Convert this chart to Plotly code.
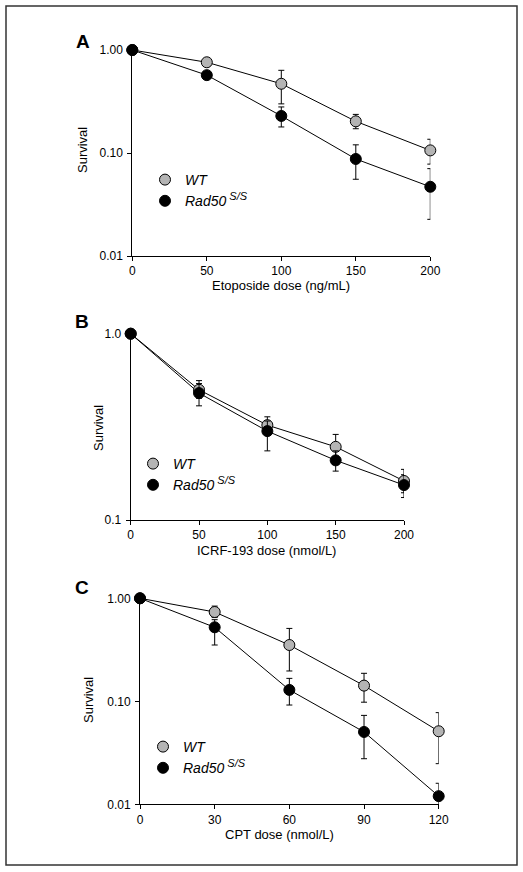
import plotly.graph_objects as go

# ---------------- data ----------------
# Panel A: Etoposide
a_dose = [0, 50, 100, 150, 200]
a_wt = [1.0, 0.76, 0.47, 0.203, 0.106]
a_wt_hi = [1.0, 0.76, 0.635, 0.237, 0.136]
a_wt_lo = [1.0, 0.76, 0.30, 0.172, 0.078]
a_rad = [1.0, 0.57, 0.229, 0.0875, 0.047]
a_rad_hi = [1.0, 0.57, 0.28, 0.12, 0.0705]
a_rad_lo = [1.0, 0.57, 0.179, 0.0556, 0.0227]
a_xticks = [0, 50, 100, 150, 200]

# Panel B: ICRF-193
b_dose = [0, 50, 100, 150, 200]
b_wt = [1.0, 0.50, 0.323, 0.247, 0.162]
b_wt_hi = [1.0, 0.56, 0.358, 0.288, 0.187]
b_wt_lo = [1.0, 0.45, 0.29, 0.215, 0.14]
b_rad = [1.0, 0.48, 0.30, 0.209, 0.154]
b_rad_hi = [1.0, 0.54, 0.34, 0.235, 0.175]
b_rad_lo = [1.0, 0.41, 0.235, 0.183, 0.132]
b_xticks = [0, 50, 100, 150, 200]

# Panel C: CPT
c_dose = [0, 30, 60, 90, 120]
c_wt = [1.0, 0.736, 0.352, 0.142, 0.0512]
c_wt_hi = [1.0, 0.84, 0.51, 0.187, 0.0776]
c_wt_lo = [1.0, 0.65, 0.197, 0.098, 0.0248]
c_rad = [1.0, 0.523, 0.129, 0.0504, 0.012]
c_rad_hi = [1.0, 0.62, 0.167, 0.073, 0.016]
c_rad_lo = [1.0, 0.352, 0.092, 0.0277, 0.009]
c_xticks = [0, 30, 60, 90, 120]

W, H = 523, 872
FONT = "Liberation Sans, Arial, Helvetica, sans-serif"
WT_FILL = "#b4b4b4"


def px(x):
    return x / W


def py(y):
    return 1 - y / H


def err(vals, hi, lo):
    return dict(type="data", symmetric=False,
                array=[h - v for h, v in zip(hi, vals)],
                arrayminus=[v - l for v, l in zip(vals, lo)],
                color="black", thickness=1, width=3)


fig = go.Figure()

panels = [
    ("", a_dose, a_wt, a_wt_hi, a_wt_lo, a_rad, a_rad_hi, a_rad_lo, "legend"),
    ("2", b_dose, b_wt, b_wt_hi, b_wt_lo, b_rad, b_rad_hi, b_rad_lo, "legend2"),
    ("3", c_dose, c_wt, c_wt_hi, c_wt_lo, c_rad, c_rad_hi, c_rad_lo, "legend3"),
]

for s, dose, wt, wthi, wtlo, rad, radhi, radlo, leg in panels:
    for vals in (wt, rad):
        fig.add_trace(go.Scatter(
            x=dose, y=vals, mode="lines", showlegend=False, hoverinfo="skip",
            xaxis="x" + s, yaxis="y" + s, cliponaxis=False,
            line=dict(color="black", width=1)))
    fig.add_trace(go.Scatter(
        x=dose, y=wt, mode="markers", name="<i>WT</i>",
        xaxis="x" + s, yaxis="y" + s, legend=leg, cliponaxis=False,
        marker=dict(size=11, color=WT_FILL, line=dict(color="black", width=1)),
        error_y=err(wt, wthi, wtlo)))
    fig.add_trace(go.Scatter(
        x=dose, y=rad, mode="markers",
        name='<i>Rad50</i><sup><i><span style="font-size:11px"> S/S</span></i></sup>',
        xaxis="x" + s, yaxis="y" + s, legend=leg, cliponaxis=False,
        marker=dict(size=11, color="black", line=dict(color="black", width=1)),
        error_y=err(rad, radhi, radlo)))

axis_common = dict(showline=True, linecolor="black", linewidth=1, ticks="outside",
                   ticklen=4, tickcolor="black", showgrid=False, zeroline=False,
                   automargin=False,
                   tickfont=dict(family=FONT, size=12, color="black"))

layout = dict(
    width=W, height=H, margin=dict(l=0, r=0, t=0, b=0, pad=0, autoexpand=False),
    paper_bgcolor="white", plot_bgcolor="rgba(0,0,0,0)",
    font=dict(family=FONT, color="black"),
    # Panel A
    xaxis=dict(domain=[px(132.3), px(430.3)], range=[0, 200], tickvals=a_xticks,
               anchor="y", **axis_common),
    yaxis=dict(domain=[py(256), py(50)], type="log", range=[-2, 0],
               tickvals=[0.01, 0.1, 1], ticktext=["0.01", "0.10", "1.00"],
               ticklabelstandoff=2, anchor="x", **axis_common),
    # Panel B
    xaxis2=dict(domain=[px(130.7), px(404)], range=[0, 200], tickvals=b_xticks,
                anchor="y2", **axis_common),
    yaxis2=dict(domain=[py(520), py(333.7)], type="log", range=[-1, 0],
                tickvals=[0.1, 1], ticktext=["0.1", "1.0"],
                ticklabelstandoff=2, anchor="x2", **axis_common),
    # Panel C
    xaxis3=dict(domain=[px(140), px(438.7)], range=[0, 120], tickvals=c_xticks,
                anchor="y3", **axis_common),
    yaxis3=dict(domain=[py(804.3), py(598.3)], type="log", range=[-2, 0],
                tickvals=[0.01, 0.1, 1], ticktext=["0.01", "0.10", "1.00"],
                ticklabelstandoff=2, anchor="x3", **axis_common),
)

leg_common = dict(bgcolor="rgba(0,0,0,0)", borderwidth=0, xanchor="left", yanchor="top",
                  font=dict(family=FONT, size=14, color="black"), tracegroupgap=0)
layout["legend"] = dict(x=px(145), y=py(164), **leg_common)
layout["legend2"] = dict(x=px(133), y=py(448), **leg_common)
layout["legend3"] = dict(x=px(143), y=py(731), **leg_common)

fig.update_layout(**layout)

annots = [
    ("A", 83, 42, 0, 19, True),
    ("B", 82, 321, 0, 19, True),
    ("C", 82, 587, 0, 19, True),
    ("Survival", 82, 150, -90, 13, False),
    ("Survival", 98, 428, -90, 13, False),
    ("Survival", 88, 700, -90, 13, False),
    ("Etoposide dose (ng/mL)", 281, 285, 0, 13, False),
    ("ICRF-193 dose (nmol/L)", 266, 550, 0, 13, False),
    ("CPT dose (nmol/L)", 279, 834, 0, 13, False),
]
for text, x, y, ang, size, bold in annots:
    fig.add_annotation(text=f"<b>{text}</b>" if bold else text, xref="paper", yref="paper",
                       x=px(x), y=py(y), xanchor="center", yanchor="middle",
                       textangle=ang, showarrow=False,
                       font=dict(family=FONT, size=size, color="black"))

# outer frame
fig.add_shape(type="rect", xref="paper", yref="paper", x0=px(6), x1=px(517),
              y0=py(865), y1=py(6), line=dict(color="#333333", width=1.5))

fig.write_html(
    "out.html",
    config={"displayModeBar": False},
    post_script=("document.documentElement.style.margin='0px';"
                 "document.body.style.margin='0px';"
                 "document.documentElement.style.overflow='hidden';"
                 "document.body.style.overflow='hidden';"),
)
